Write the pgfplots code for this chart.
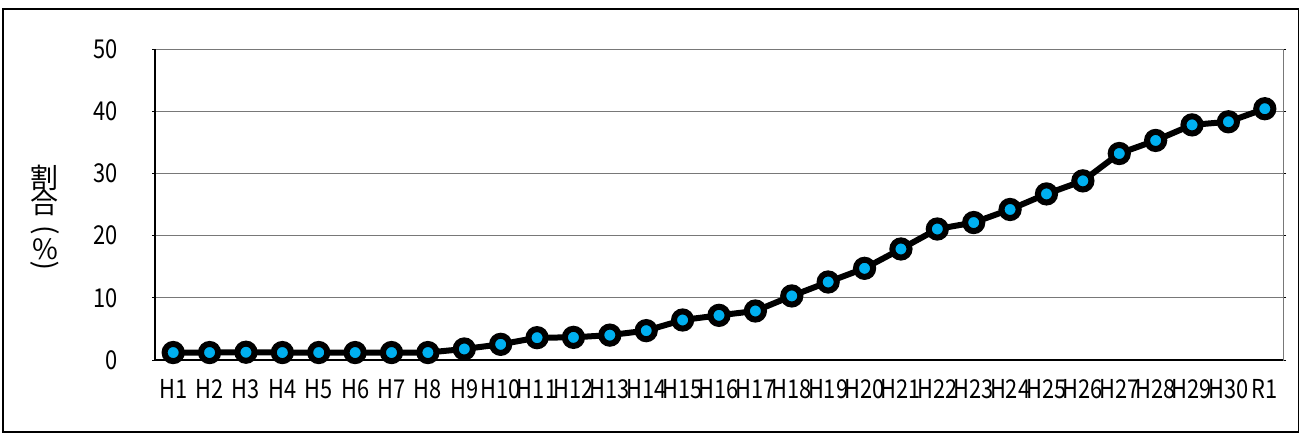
\documentclass[border=0pt]{standalone}
\usepackage{fontspec}
\usepackage{graphicx}
\usepackage{pgfplots}
\pgfplotsset{compat=1.18}
\newfontfamily\jpnarrow[FakeStretch=0.84]{Noto Sans CJK JP}
\newfontfamily\jp{Noto Sans CJK JP}
\setmainfont{Noto Sans CJK JP}
\definecolor{dotblue}{RGB}{0,176,240}
\definecolor{gridgray}{RGB}{120,120,120}
\begin{document}
\begin{tikzpicture}
\useasboundingbox (0,0) rectangle (650.5pt,217.5pt);
\draw[black, line width=0.6pt] (1.5pt,213pt) rectangle (649.2pt,1.5pt);
\begin{axis}[
  at={(77.5pt,37.5pt)}, anchor=south west,
  scale only axis, width=564pt, height=155.5pt,
  xmin=-0.5, xmax=30.5, ymin=0, ymax=50,
  xtick={0,...,30},
  xticklabels={H1,H2,H3,H4,H5,H6,H7,H8,H9,H10,H11,H12,H13,H14,H15,H16,H17,H18,H19,H20,H21,H22,H23,H24,H25,H26,H27,H28,H29,H30,R1},
  ytick={0,10,20,30,40,50},
  ymajorgrids, grid style={gridgray, line width=0.5pt},
  axis line style={gridgray, line width=0.5pt},
  x tick style={draw=none},
  y tick style={black, line width=0.5pt},
  tick align=outside, major tick length=1.5pt,
  /pgf/number format/assume math mode=true,
  tick label style={font=\jpnarrow\fontsize{13pt}{14pt}\selectfont, text=black},
  xticklabel style={anchor=base, inner sep=0pt, yshift=-17.5pt},
  yticklabel style={anchor=east, inner sep=0pt, xshift=-17pt},
  clip=false,
]
\addplot[black, line width=3pt, mark=*, mark size=4.3pt,
  mark options={fill=dotblue, draw=black, line width=3pt}]
  coordinates {
  (0,1.2) (1,1.2) (2,1.25) (3,1.2) (4,1.2) (5,1.2) (6,1.2) (7,1.2)
  (8,1.77) (9,2.52) (10,3.59) (11,3.64) (12,4.0) (13,4.72) (14,6.43)
  (15,7.18) (16,7.88) (17,10.3) (18,12.54) (19,14.74) (20,17.85)
  (21,21.06) (22,22.1) (23,24.2) (24,26.7) (25,28.8) (26,33.2)
  (27,35.3) (28,37.8) (29,38.3) (30,40.4)
  };
\draw[black, line width=0.6pt] (rel axis cs:0,1) -- (rel axis cs:0,0) -- (rel axis cs:1,0);
\end{axis}
\begin{scope}[every node/.style={inner sep=0pt, font=\jp\fontsize{14pt}{15pt}\selectfont}]
\node at (22.5pt,128.5pt) {割};
\node at (22.5pt,116pt) {合};
\node at (22.5pt,102.5pt) {\rotatebox{-90}{(}};
\node at (22.5pt,93pt) {\%};
\node at (22.5pt,84.5pt) {\rotatebox{90}{(}};
\end{scope}
\end{tikzpicture}
\end{document}
